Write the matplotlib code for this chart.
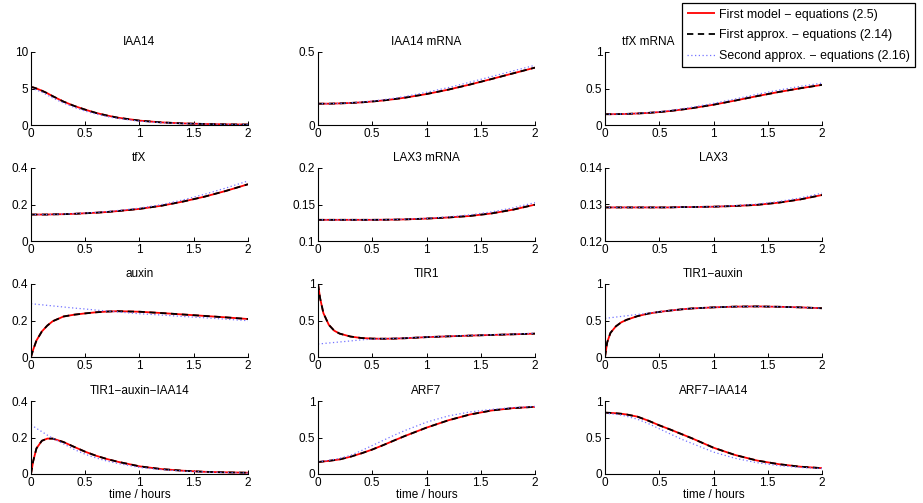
import matplotlib
matplotlib.use("Agg")
import matplotlib.pyplot as plt

plt.rcParams['font.family'] = ['Liberation Sans', 'DejaVu Sans']
plt.rcParams['font.size'] = 8.5

# common time grid (hours)
t = [0, 0.02, 0.05, 0.1, 0.15, 0.2, 0.3, 0.4, 0.5, 0.6, 0.7, 0.8, 1.0, 1.2, 1.4, 1.6, 1.8, 2.0]

titles = ["IAA14", "IAA14 mRNA", "tfX mRNA",
          "tfX", "LAX3 mRNA", "LAX3",
          "auxin", "TIR1", "TIR1\u2212auxin",
          "TIR1\u2212auxin\u2212IAA14", "ARF7", "ARF7\u2212IAA14"]

legend_labels = ["First model \u2212 equations (2.5)",
                 "First approx. \u2212 equations (2.14)",
                 "Second approx. \u2212 equations (2.16)"]

ylims = [(0, 10), (0, 0.5), (0, 1),
         (0, 0.4), (0.1, 0.2), (0.12, 0.14),
         (0, 0.4), (0, 1), (0, 1),
         (0, 0.4), (0, 1), (0, 1)]
yticks = [[0, 5, 10], [0, 0.5], [0, 0.5, 1],
          [0, 0.2, 0.4], [0.1, 0.15, 0.2], [0.12, 0.13, 0.14],
          [0, 0.2, 0.4], [0, 0.5, 1], [0, 0.5, 1],
          [0, 0.2, 0.4], [0, 0.5, 1], [0, 0.5, 1]]
xticks = [0, 0.5, 1, 1.5, 2]

# --- series values (model = first model, approx1 = first approximation, approx2 = second approximation)
iaa14_model = [5.2, 5.15, 5.0, 4.7, 4.35, 3.95, 3.2, 2.6, 2.1, 1.65, 1.3, 1.0, 0.6, 0.36, 0.22, 0.14, 0.09, 0.06]
iaa14_approx1 = [5.2, 5.15, 5.0, 4.7, 4.35, 3.95, 3.2, 2.6, 2.1, 1.65, 1.3, 1.0, 0.6, 0.36, 0.22, 0.14, 0.09, 0.06]
iaa14_approx2 = [5.0, 4.92, 4.8, 4.5, 4.1, 3.7, 3.0, 2.4, 1.9, 1.5, 1.15, 0.9, 0.52, 0.32, 0.2, 0.13, 0.09, 0.06]

iaa14mrna_model = [0.146, 0.146, 0.146, 0.146, 0.147, 0.148, 0.151, 0.155, 0.161, 0.168, 0.177, 0.187, 0.212, 0.242, 0.277, 0.315, 0.354, 0.393]
iaa14mrna_approx1 = [0.146, 0.146, 0.146, 0.146, 0.147, 0.148, 0.151, 0.155, 0.161, 0.168, 0.177, 0.187, 0.212, 0.242, 0.277, 0.315, 0.354, 0.393]
iaa14mrna_approx2 = [0.146, 0.146, 0.146, 0.146, 0.147, 0.148, 0.152, 0.157, 0.164, 0.173, 0.183, 0.195, 0.224, 0.256, 0.293, 0.332, 0.371, 0.409]

tfxmrna_model = [0.148, 0.148, 0.148, 0.149, 0.150, 0.152, 0.158, 0.166, 0.177, 0.192, 0.210, 0.230, 0.278, 0.335, 0.395, 0.452, 0.503, 0.55]
tfxmrna_approx1 = [0.148, 0.148, 0.148, 0.149, 0.150, 0.152, 0.158, 0.166, 0.177, 0.192, 0.210, 0.230, 0.278, 0.335, 0.395, 0.452, 0.503, 0.55]
tfxmrna_approx2 = [0.148, 0.148, 0.148, 0.149, 0.151, 0.153, 0.160, 0.170, 0.182, 0.200, 0.220, 0.243, 0.296, 0.356, 0.420, 0.478, 0.530, 0.574]

tfx_model = [0.145, 0.145, 0.145, 0.145, 0.145, 0.146, 0.147, 0.149, 0.152, 0.155, 0.159, 0.164, 0.176, 0.193, 0.216, 0.243, 0.275, 0.311]
tfx_approx1 = [0.145, 0.145, 0.145, 0.145, 0.145, 0.146, 0.147, 0.149, 0.152, 0.155, 0.159, 0.164, 0.176, 0.193, 0.216, 0.243, 0.275, 0.311]
tfx_approx2 = [0.145, 0.145, 0.145, 0.145, 0.145, 0.146, 0.148, 0.150, 0.153, 0.157, 0.161, 0.167, 0.180, 0.199, 0.225, 0.256, 0.291, 0.329]

lax3mrna_model = [0.129, 0.129, 0.129, 0.129, 0.129, 0.129, 0.129, 0.129, 0.129, 0.1291, 0.1293, 0.1296, 0.1307, 0.1322, 0.1343, 0.1378, 0.1430, 0.1498]
lax3mrna_approx1 = [0.129, 0.129, 0.129, 0.129, 0.129, 0.129, 0.129, 0.129, 0.129, 0.1291, 0.1293, 0.1296, 0.1307, 0.1322, 0.1343, 0.1378, 0.1430, 0.1498]
lax3mrna_approx2 = [0.129, 0.129, 0.129, 0.129, 0.129, 0.129, 0.129, 0.129, 0.129, 0.1291, 0.1294, 0.1298, 0.1310, 0.1330, 0.1358, 0.1398, 0.1455, 0.1526]

lax3_model = [0.1292, 0.1292, 0.1292, 0.1292, 0.1292, 0.1292, 0.1292, 0.1292, 0.1292, 0.1292, 0.1293, 0.1293, 0.1294, 0.1296, 0.1299, 0.1305, 0.1314, 0.1326]
lax3_approx1 = [0.1292, 0.1292, 0.1292, 0.1292, 0.1292, 0.1292, 0.1292, 0.1292, 0.1292, 0.1292, 0.1293, 0.1293, 0.1294, 0.1296, 0.1299, 0.1305, 0.1314, 0.1326]
lax3_approx2 = [0.1292, 0.1292, 0.1292, 0.1292, 0.1292, 0.1292, 0.1292, 0.1292, 0.1292, 0.1292, 0.1293, 0.1293, 0.1294, 0.1297, 0.1301, 0.1308, 0.1318, 0.1331]

auxin_model = [0.0, 0.04, 0.09, 0.14, 0.172, 0.196, 0.222, 0.232, 0.239, 0.245, 0.249, 0.251, 0.248, 0.241, 0.233, 0.225, 0.217, 0.208]
auxin_approx1 = [0.0, 0.04, 0.09, 0.14, 0.172, 0.196, 0.222, 0.232, 0.239, 0.245, 0.249, 0.251, 0.248, 0.241, 0.233, 0.225, 0.217, 0.208]
auxin_approx2 = [0.292, 0.291, 0.289, 0.286, 0.283, 0.280, 0.274, 0.268, 0.263, 0.257, 0.252, 0.247, 0.237, 0.230, 0.222, 0.215, 0.207, 0.199]

tir1_model = [1.0, 0.80, 0.60, 0.44, 0.36, 0.32, 0.28, 0.26, 0.252, 0.250, 0.252, 0.257, 0.272, 0.283, 0.293, 0.302, 0.311, 0.32]
tir1_approx1 = [1.0, 0.80, 0.60, 0.44, 0.36, 0.32, 0.28, 0.26, 0.252, 0.250, 0.252, 0.257, 0.272, 0.283, 0.293, 0.302, 0.311, 0.32]
tir1_approx2 = [0.178, 0.180, 0.185, 0.192, 0.199, 0.206, 0.220, 0.235, 0.245, 0.251, 0.255, 0.260, 0.274, 0.285, 0.295, 0.304, 0.314, 0.325]

tir1auxin_model = [0.0, 0.20, 0.33, 0.42, 0.475, 0.51, 0.56, 0.595, 0.618, 0.636, 0.652, 0.665, 0.680, 0.690, 0.693, 0.688, 0.680, 0.668]
tir1auxin_approx1 = [0.0, 0.20, 0.33, 0.42, 0.475, 0.51, 0.56, 0.595, 0.618, 0.636, 0.652, 0.665, 0.680, 0.690, 0.693, 0.688, 0.680, 0.668]
tir1auxin_approx2 = [0.53, 0.533, 0.538, 0.547, 0.556, 0.565, 0.583, 0.60, 0.62, 0.637, 0.652, 0.665, 0.681, 0.690, 0.693, 0.688, 0.680, 0.668]

complex_model = [0.0, 0.07, 0.14, 0.182, 0.194, 0.194, 0.175, 0.148, 0.122, 0.100, 0.082, 0.067, 0.042, 0.027, 0.018, 0.012, 0.009, 0.007]
complex_approx1 = [0.0, 0.07, 0.14, 0.182, 0.194, 0.194, 0.175, 0.148, 0.122, 0.100, 0.082, 0.067, 0.042, 0.027, 0.018, 0.012, 0.009, 0.007]
complex_approx2 = [0.27, 0.262, 0.25, 0.232, 0.213, 0.196, 0.165, 0.134, 0.108, 0.088, 0.071, 0.058, 0.036, 0.024, 0.016, 0.011, 0.008, 0.005]

arf7_model = [0.165, 0.167, 0.172, 0.18, 0.19, 0.20, 0.237, 0.283, 0.335, 0.395, 0.458, 0.52, 0.635, 0.735, 0.815, 0.87, 0.903, 0.92]
arf7_approx1 = [0.165, 0.167, 0.172, 0.18, 0.19, 0.20, 0.237, 0.283, 0.335, 0.395, 0.458, 0.52, 0.635, 0.735, 0.815, 0.87, 0.903, 0.92]
arf7_approx2 = [0.17, 0.172, 0.177, 0.187, 0.20, 0.215, 0.255, 0.32, 0.39, 0.46, 0.53, 0.595, 0.71, 0.795, 0.85, 0.885, 0.91, 0.925]

arf7iaa14_model = [0.84, 0.839, 0.837, 0.832, 0.825, 0.815, 0.785, 0.73, 0.667, 0.61, 0.55, 0.49, 0.36, 0.26, 0.185, 0.135, 0.10, 0.08]
arf7iaa14_approx1 = [0.84, 0.839, 0.837, 0.832, 0.825, 0.815, 0.785, 0.73, 0.667, 0.61, 0.55, 0.49, 0.36, 0.26, 0.185, 0.135, 0.10, 0.08]
arf7iaa14_approx2 = [0.83, 0.829, 0.826, 0.818, 0.807, 0.79, 0.75, 0.69, 0.62, 0.55, 0.48, 0.42, 0.30, 0.215, 0.155, 0.115, 0.09, 0.075]

model_series = [iaa14_model, iaa14mrna_model, tfxmrna_model, tfx_model, lax3mrna_model, lax3_model,
                auxin_model, tir1_model, tir1auxin_model, complex_model, arf7_model, arf7iaa14_model]
approx1_series = [iaa14_approx1, iaa14mrna_approx1, tfxmrna_approx1, tfx_approx1, lax3mrna_approx1, lax3_approx1,
                  auxin_approx1, tir1_approx1, tir1auxin_approx1, complex_approx1, arf7_approx1, arf7iaa14_approx1]
approx2_series = [iaa14_approx2, iaa14mrna_approx2, tfxmrna_approx2, tfx_approx2, lax3mrna_approx2, lax3_approx2,
                  auxin_approx2, tir1_approx2, tir1auxin_approx2, complex_approx2, arf7_approx2, arf7iaa14_approx2]


def fmt(v):
    return "%g" % v


W, H = 923, 503
fig = plt.figure(figsize=(W / 100, H / 100), dpi=100)
col_left = [31, 318, 605]
row_top = [52, 168, 284, 401]
ax_w, ax_h = 217, 73

handles = None
for i in range(12):
    r, c = divmod(i, 3)
    ax = fig.add_axes([col_left[c] / W, 1 - (row_top[r] + ax_h) / H, ax_w / W, ax_h / H])
    h1, = ax.plot(t, model_series[i], color='red', lw=1.3, solid_capstyle='butt')
    h2, = ax.plot(t, approx1_series[i], color='black', lw=1.3, ls=(0, (3.5, 2.5)))
    h3, = ax.plot(t, approx2_series[i], color=(0.45, 0.45, 1.0), lw=0.9, ls=(0, (1, 2)))
    if handles is None:
        handles = [h1, h2, h3]
    ax.set_xlim(0, 2)
    ax.set_ylim(*ylims[i])
    ax.set_xticks(xticks)
    ax.set_xticklabels([fmt(v) for v in xticks])
    ax.set_yticks(yticks[i])
    ax.set_yticklabels([fmt(v) for v in yticks[i]])
    ax.spines['top'].set_visible(False)
    ax.spines['right'].set_visible(False)
    for s in ('left', 'bottom'):
        ax.spines[s].set_linewidth(0.8)
        ax.spines[s].set_color('black')
    ax.tick_params(direction='in', length=3, width=0.7, labelsize=8.5, pad=2, colors='black')
    ttl = ax.set_title(titles[i], fontsize=8.5, pad=5)
    if i == 2:
        ttl.set_x(0.2)
    if r == 3:
        ax.set_xlabel("time / hours", fontsize=8.5, labelpad=0)

leg = fig.legend(handles, legend_labels, loc='upper right',
                 bbox_to_anchor=(915 / W, 1 - 3 / H), fontsize=8.9,
                 frameon=True, fancybox=False, framealpha=1,
                 edgecolor='black', handlelength=2.2, handletextpad=0.32,
                 labelspacing=0.7, borderpad=0.45, borderaxespad=0)
leg.get_frame().set_linewidth(0.9)

fig.savefig("out.png", dpi=100)
